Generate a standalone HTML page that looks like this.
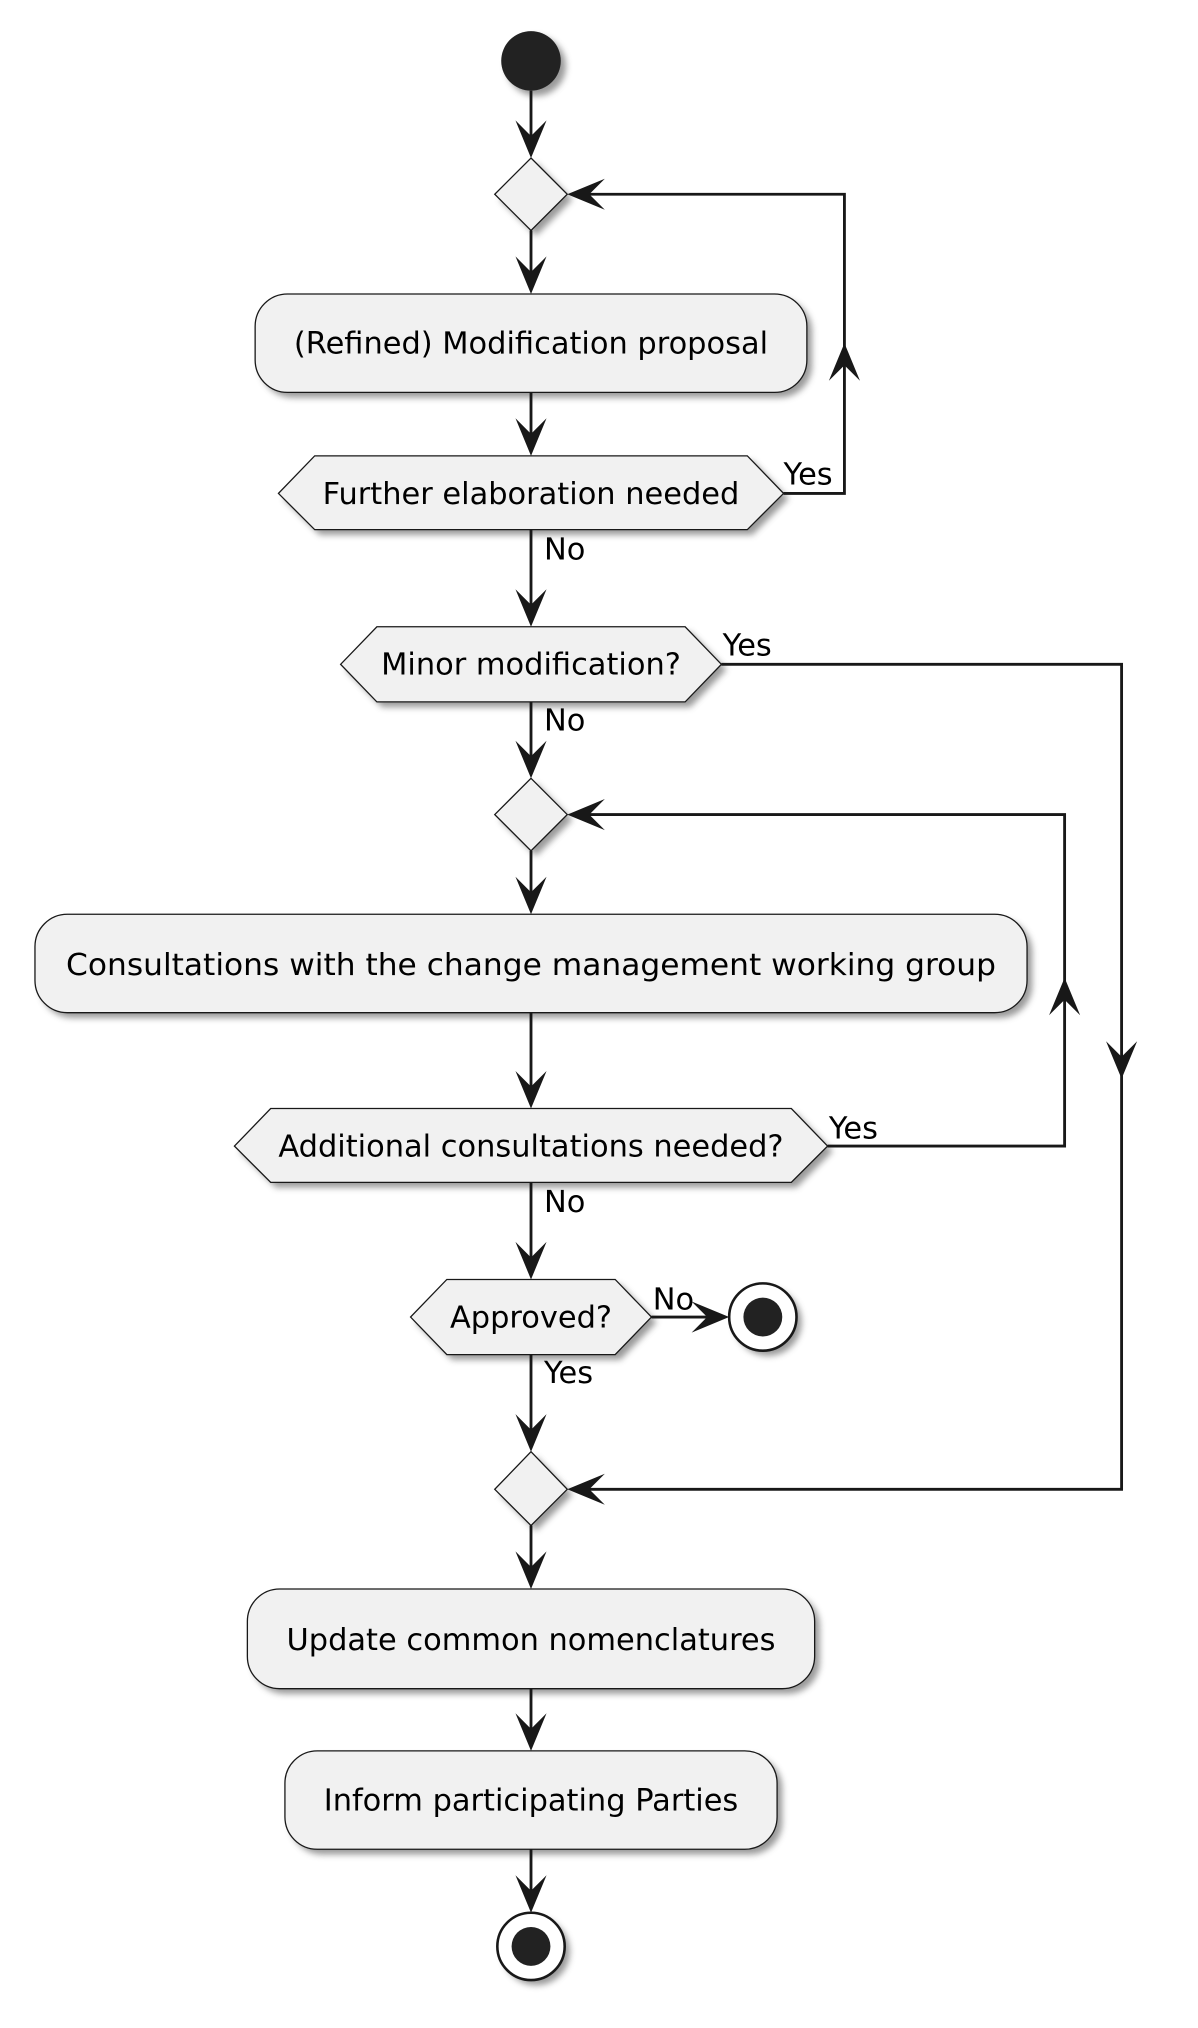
<!DOCTYPE html>
<html><head><meta charset="utf-8"><style>html,body{margin:0;padding:0;background:#fff}svg{display:block}</style></head><body>
<svg width="1198" height="2028" viewBox="0 0 925 1566" preserveAspectRatio="none" xmlns="http://www.w3.org/2000/svg" font-family="'DejaVu Sans','Liberation Sans',sans-serif" font-size="23.5">
<defs>
<filter id="sh" x="-20%" y="-20%" width="150%" height="160%"><feGaussianBlur stdDeviation="2.5"/></filter>
<g id="ah"><path d="M0,0 L-12,-29 L0,-17 L12,-29 Z" fill="#181818"/></g>
</defs>
<g fill="#888" filter="url(#sh)" opacity="0.85">
<circle cx="414" cy="51" r="23"/>
<polygon points="414,126 442,154 414,182 386,154"/>
<rect x="201" y="231" width="426" height="76" rx="25"/>
<polygon points="247,356 581,356 609,385 581,413 247,413 219,385"/>
<polygon points="295,488 533,488 561,517 533,546 295,546 267,517"/>
<polygon points="414,605 442,633 414,661 386,633"/>
<rect x="31" y="710" width="766" height="76" rx="25"/>
<polygon points="213,860 615,860 643,889 615,917 213,917 185,889"/>
<polygon points="349,992 479,992 507,1021 479,1050 349,1050 321,1021"/>
<circle cx="593" cy="1021" r="26"/>
<polygon points="414,1125 442,1154 414,1182 386,1154"/>
<rect x="195" y="1231" width="438" height="77" rx="25"/>
<rect x="224" y="1356" width="380" height="76" rx="25"/>
<circle cx="414" cy="1507" r="26"/>
</g>
<g stroke="#181818" stroke-width="2.2" fill="none">
<line x1="410" y1="70" x2="410" y2="115"/>
<line x1="410" y1="178" x2="410" y2="220"/>
<line x1="410" y1="303" x2="410" y2="345"/>
<polyline points="605,381 652,381 652,150 445,150"/>
<line x1="410" y1="409" x2="410" y2="477"/>
<polyline points="557,513 866,513 866,1150 445,1150"/>
<line x1="410" y1="542" x2="410" y2="594"/>
<line x1="410" y1="657" x2="410" y2="699"/>
<line x1="410" y1="782" x2="410" y2="849"/>
<polyline points="639,885 822,885 822,629 445,629"/>
<line x1="410" y1="913" x2="410" y2="981"/>
<line x1="503" y1="1017" x2="555" y2="1017"/>
<line x1="410" y1="1046" x2="410" y2="1114"/>
<line x1="410" y1="1178" x2="410" y2="1220"/>
<line x1="410" y1="1304" x2="410" y2="1345"/>
<line x1="410" y1="1428" x2="410" y2="1470"/>
</g>
<use href="#ah" x="410" y="122"/>
<use href="#ah" x="410" y="227"/>
<use href="#ah" x="410" y="352"/>
<use href="#ah" transform="translate(652,265) rotate(180)"/>
<use href="#ah" transform="translate(438,150) rotate(90)"/>
<use href="#ah" x="410" y="484"/>
<use href="#ah" x="866" y="833"/>
<use href="#ah" x="410" y="601"/>
<use href="#ah" x="410" y="706"/>
<use href="#ah" x="410" y="856"/>
<use href="#ah" transform="translate(822,755) rotate(180)"/>
<use href="#ah" transform="translate(438,629) rotate(90)"/>
<use href="#ah" x="410" y="988"/>
<use href="#ah" transform="translate(563,1017) rotate(-90)"/>
<use href="#ah" x="410" y="1121"/>
<use href="#ah" transform="translate(438,1150) rotate(90)"/>
<use href="#ah" x="410" y="1227"/>
<use href="#ah" x="410" y="1352"/>
<use href="#ah" x="410" y="1477"/>
<g fill="#F1F1F1" stroke="#181818" stroke-width="1">
<polygon points="410,122 438,150 410,178 382,150"/>
<rect x="197" y="227" width="426" height="76" rx="25"/>
<polygon points="243,352 577,352 605,381 577,409 243,409 215,381"/>
<polygon points="291,484 529,484 557,513 529,542 291,542 263,513"/>
<polygon points="410,601 438,629 410,657 382,629"/>
<rect x="27" y="706" width="766" height="76" rx="25"/>
<polygon points="209,856 611,856 639,885 611,913 209,913 181,885"/>
<polygon points="345,988 475,988 503,1017 475,1046 345,1046 317,1017"/>
<polygon points="410,1121 438,1150 410,1178 382,1150"/>
<rect x="191" y="1227" width="438" height="77" rx="25"/>
<rect x="220" y="1352" width="380" height="76" rx="25"/>
</g>
<circle cx="410" cy="47" r="23" fill="#222"/>
<circle cx="589" cy="1017" r="26" fill="#fff" stroke="#181818" stroke-width="2"/>
<circle cx="589" cy="1017" r="15" fill="#222"/>
<circle cx="410" cy="1503" r="26" fill="#fff" stroke="#181818" stroke-width="2"/>
<circle cx="410" cy="1503" r="15" fill="#222"/>
<g fill="#000" text-anchor="middle">
<text x="410" y="273">(Refined) Modification proposal</text>
<text x="410" y="389">Further elaboration needed</text>
<text x="410" y="521">Minor modification?</text>
<text x="410" y="753" textLength="718" lengthAdjust="spacingAndGlyphs">Consultations with the change management working group</text>
<text x="410" y="893">Additional consultations needed?</text>
<text x="410" y="1025">Approved?</text>
<text x="410" y="1274">Update common nomenclatures</text>
<text x="410" y="1398">Inform participating Parties</text>
</g>
<g fill="#000">
<text x="605" y="374">Yes</text>
<text x="420" y="432">No</text>
<text x="558" y="506">Yes</text>
<text x="420" y="564">No</text>
<text x="640" y="879">Yes</text>
<text x="420" y="936">No</text>
<text x="504" y="1011">No</text>
<text x="420" y="1068">Yes</text>
</g>
</svg>
</body></html>
